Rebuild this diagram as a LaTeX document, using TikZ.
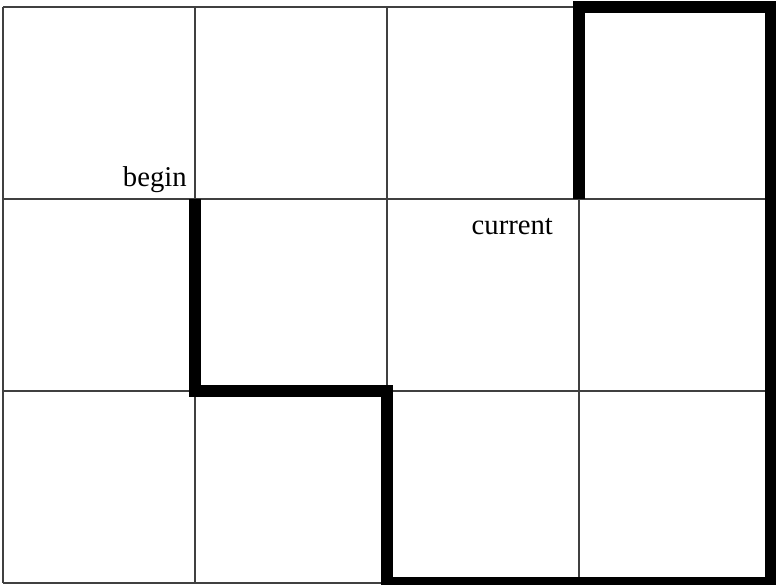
\documentclass[tikz,border=0pt]{standalone}
\usepackage{fontspec}
\setmainfont{Liberation Serif}
\usetikzlibrary{positioning}

\begin{document}
\begin{tikzpicture}[x=2cm, y=2cm,
  gridline/.style={line width=0.6pt, black!75},
  walk/.style={line width=3.6pt, black},
  lbl/.style={font=\fontsize{8.5}{10}\selectfont, inner sep=0pt}]

% --- Bounding box (keeps the reference margins) ---
\useasboundingbox (-0.0156, -0.0104) rectangle (4.026, 3.036);

% --- Grid: 4 columns x 3 rows ---
\foreach \x in {0,...,4} {
  \draw[gridline] (\x, 0) -- (\x, 3);
}
\foreach \y in {0,...,3} {
  \draw[gridline] (0, \y) -- (4, \y);
}

% --- Thick walk from begin round to current ---
\draw[walk] (1, 2) -- (1, 1) -- (2, 1) -- (2, 0) -- (4, 0)
  -- (4, 3) -- (3, 3) -- (3, 2);

% --- Labels ---
\node[lbl, anchor=base east] (begin) at (0.96, 2.0625) {begin};
\node[lbl, anchor=base west] (current) at (2.4375, 1.8125) {current};

\end{tikzpicture}
\end{document}
